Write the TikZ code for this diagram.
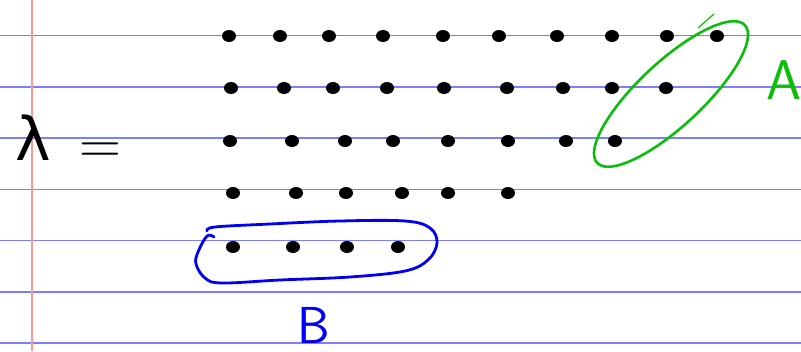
\documentclass[tikz,border=0pt]{standalone}
\usepackage{fontspec}
\newfontfamily\grkfont{DejaVu Sans}
\usetikzlibrary{shapes.geometric}
\definecolor{ruleblue}{RGB}{125,125,255}
\definecolor{rulered}{RGB}{255,150,150}
\definecolor{penblue}{RGB}{0,0,245}
\definecolor{pengreen}{RGB}{10,190,10}
\tikzset{
  dotcell/.style={ellipse,fill=black,inner sep=0pt,minimum width=14pt,minimum height=12pt},
  ruleline/.style={ruleblue,line width=1.3pt},
  marginline/.style={rulered,line width=1.2pt},
  loopA/.style={pengreen,line width=2.6pt,line cap=round},
  loopB/.style={penblue,line width=2.8pt,line cap=round,line join=round},
  handtext/.style={inner sep=0pt,font=\fontsize{56}{60}\selectfont\sffamily}
}
\begin{document}
\begin{tikzpicture}[x=1pt,y=-1pt]
\useasboundingbox (0,0) rectangle (801,351);
\fill[white] (0,0) rectangle (801,351);
% ruled paper
\foreach \yy in {35.5,87,138,189.5,240.5,292,343}
  \draw[ruleline] (0,\yy) -- (801,\yy);
\draw[marginline] (32,0) -- (32,351);
% lambda =
\node[inner sep=0pt,font=\fontsize{60}{62}\selectfont\grkfont] (lam) at (33,138) {λ};
\node[inner sep=0pt,font=\fontsize{58}{60}\selectfont] (eq) at (100,153) {=};
% dots
\foreach \x [count=\c] in {229,280,329,383,443,499,557,612,667,717}
  \node[dotcell] (d1-\c) at (\x,36) {};
\foreach \x [count=\c] in {231,284,333,387,444,507,563,612,666}
  \node[dotcell] (d2-\c) at (\x,88) {};
\foreach \x [count=\c] in {230,292,345,393,448,508,566,615}
  \node[dotcell] (d3-\c) at (\x,141) {};
\foreach \x [count=\c] in {233,296,346,402,448,508}
  \node[dotcell] (d4-\c) at (\x,193) {};
\foreach \x [count=\c] in {233,293,347,398}
  \node[dotcell] (d5-\c) at (\x,247) {};
% green loop A
\draw[loopA,rotate around={43:(671,94)}] (671,94) ellipse [x radius=101pt, y radius=32pt];
\draw[pengreen,line width=1.2pt] (714,14) -- (698,28);
\node[handtext,pengreen] (A) at (784,80) {A};
% blue loop B
\draw[loopB] plot[smooth,tension=0.6] coordinates {(214,237) (207,236) (198,252) (196,264) (205,278) (222,283) (280,280) (350,277) (405,271) (428,260) (437,243) (430,228) (405,221) (340,221) (270,224) (215,227) (207,231)};
\node[handtext,penblue,font=\fontsize{52}{56}\selectfont\sffamily] (B) at (314,325) {B};
\end{tikzpicture}
\end{document}
